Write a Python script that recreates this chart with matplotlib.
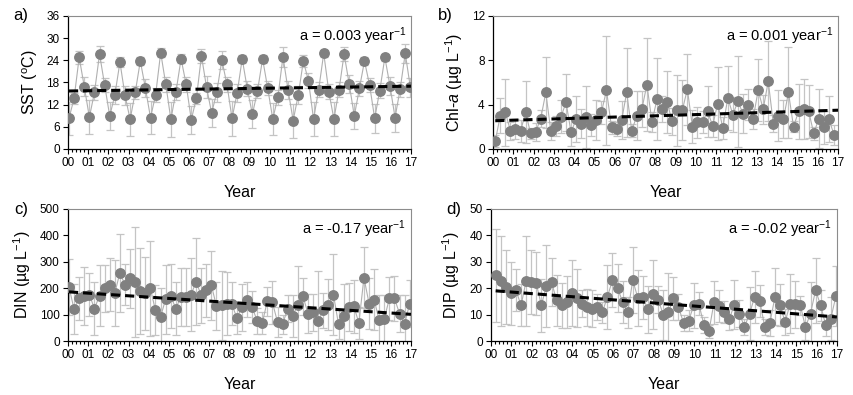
import numpy as np
import matplotlib
matplotlib.use("Agg")
import matplotlib.pyplot as plt
from matplotlib.ticker import MultipleLocator

plt.rcParams['font.family'] = ['Liberation Sans', 'DejaVu Sans']
plt.rcParams['mathtext.fontset'] = 'custom'
plt.rcParams['mathtext.rm'] = 'Liberation Sans'
plt.rcParams['mathtext.it'] = 'Liberation Sans:italic'

sst = [8.3, 13.7, 24.8, 16.9, 8.6, 15.3, 25.7, 17.3, 8.9, 14.6, 23.5, 14.5,
       8.0, 15.3, 23.8, 16.5, 8.5, 14.6, 26.1, 17.5, 8.0, 15.5, 24.4, 17.5,
       7.9, 13.7, 25.2, 16.7, 9.7, 15.3, 24.1, 17.5, 8.3, 15.1, 24.4, 16.3,
       9.4, 15.7, 24.4, 16.5, 8.1, 14.0, 25.0, 16.0, 7.7, 14.6, 23.8, 18.5,
       8.1, 16.0, 25.9, 15.5, 8.1, 16.0, 25.7, 17.6, 8.9, 16.4, 23.8, 17.3,
       8.3, 15.8, 24.8, 17.1, 8.5, 16.2, 25.9, 16.7]
sst_err = [4.5, 1.5, 1.8, 2.5, 4.6, 2.0, 2.2, 2.0, 3.8, 2.5, 1.3, 2.5,
           4.5, 1.8, 1.0, 2.5, 4.5, 2.0, 1.3, 2.0, 4.7, 2.2, 1.2, 2.0,
           3.8, 1.5, 1.8, 3.0, 3.7, 2.5, 2.5, 2.0, 4.8, 2.5, 1.0, 2.0,
           3.8, 2.0, 1.0, 2.0, 4.3, 2.0, 2.7, 2.5, 4.6, 2.5, 1.6, 2.0,
           4.6, 2.0, 1.0, 2.0, 4.6, 2.0, 2.0, 2.5, 3.6, 2.0, 1.0, 2.0,
           3.9, 2.0, 1.0, 2.5, 3.8, 2.0, 2.5, 2.5]

chl = [0.72, 3.0, 3.3, 1.65, 1.8, 1.6, 3.3, 1.4, 1.55, 2.75,
       5.1, 1.6, 2.1, 2.9, 4.2, 1.5, 2.7, 2.3, 2.9, 2.2,
       2.6, 3.3, 5.3, 1.95, 1.8, 2.6, 5.1, 1.65, 3.0, 3.6,
       5.8, 2.45, 4.5, 3.6, 4.2, 2.5, 3.5, 3.5, 5.4, 2.0,
       2.4, 2.45, 3.4, 2.1, 4.1, 1.9, 4.6, 3.1, 4.3, 3.2,
       4.0, 2.7, 5.3, 3.6, 6.1, 2.3, 3.0, 2.7, 5.1, 2.0,
       3.4, 3.6, 3.4, 1.4, 2.75, 1.95, 2.7, 1.3]
chl_err = [0.5, 1.6, 3.0, 0.8, 0.9, 1.0, 2.8, 0.5, 0.8, 0.8,
           3.2, 0.8, 0.9, 1.5, 2.6, 1.2, 2.1, 1.3, 2.8, 1.0,
           1.8, 1.0, 4.9, 0.6, 0.6, 1.7, 4.0, 0.6, 2.2, 1.6,
           4.2, 0.9, 3.7, 1.2, 2.8, 1.2, 3.2, 2.7, 3.2, 1.5,
           1.4, 1.0, 2.3, 1.0, 3.3, 1.0, 2.9, 1.6, 4.1, 1.8,
           1.4, 0.9, 2.8, 1.3, 3.6, 0.8, 2.3, 1.7, 4.1, 0.5,
           2.5, 2.7, 2.4, 0.6, 2.7, 1.5, 2.1, 0.9]

din = [205, 120, 161, 170, 176, 123, 171, 199, 214, 180,
       258, 214, 237, 222, 190, 180, 199, 116, 91, 158,
       171, 123, 167, 165, 176, 224, 173, 192, 211, 132,
       135, 142, 142, 87, 127, 157, 129, 76, 68, 151,
       146, 72, 63, 123, 95, 138, 170, 104, 108, 75,
       116, 138, 176, 63, 95, 129, 132, 68, 240, 142,
       157, 78, 85, 161, 161, 104, 66, 142]
din_err = [105, 95, 80, 110, 80, 100, 115, 90, 100, 125,
           147, 76, 111, 208, 162, 140, 179, 95, 110, 130,
           120, 100, 110, 110, 140, 165, 105, 100, 130, 90,
           130, 120, 80, 60, 90, 65, 60, 50, 40, 55,
           80, 55, 35, 50, 80, 145, 70, 75, 70, 190,
           65, 95, 155, 55, 120, 90, 100, 60, 115, 95,
           115, 95, 90, 80, 85, 70, 110, 90]

dip = [24.9, 22.7, 20.3, 18.0, 19.2, 13.5, 22.7, 22.4, 21.8, 13.5,
       20.9, 22.4, 15.4, 13.5, 14.8, 18.0, 16.3, 14.2, 12.7, 12.3,
       12.9, 10.8, 16.7, 23.0, 20.1, 14.8, 10.8, 23.0, 16.3, 16.5,
       12.0, 17.7, 15.7, 10.0, 10.8, 16.1, 12.9, 6.8, 7.6, 13.5,
       14.2, 6.2, 3.7, 14.6, 13.2, 11.0, 8.2, 13.8, 10.4, 5.3,
       10.4, 16.7, 15.1, 5.3, 6.8, 16.7, 13.5, 7.2, 14.2, 13.9,
       13.5, 5.3, 10.4, 19.2, 13.5, 5.9, 8.5, 17.0]
dip_err = [17.6, 17, 14, 12, 8, 8, 17, 12, 12, 10,
           15.6, 9, 9.6, 8.5, 10, 12.5, 11, 5, 7, 7,
           5, 4, 12, 10.3, 9, 8, 6, 12.5, 10.7, 8,
           9, 13, 5, 9.5, 15, 8, 5, 3, 4, 8.5,
           4.3, 3, 2.5, 8.2, 6, 4, 4, 9.2, 5, 3,
           10, 9.8, 6, 3, 5, 10.8, 8, 5, 11, 9,
           3.5, 5, 12, 12.3, 6, 4, 8, 11.5]

# first/last sampling time (years since 2000) per panel
t_span = [(0.05, 16.97), (0.11, 16.8), (0.05, 16.94), (0.23, 16.95)]
# regression line end values
trend_a = [15.7, 17.0]
trend_b = [2.55, 3.5]
trend_c = [186, 101]
trend_d = [19.0, 9.1]

slopes = ['a = 0.003 year$^{-1}$', 'a = 0.001 year$^{-1}$',
          'a = -0.17 year$^{-1}$', 'a = -0.02 year$^{-1}$']
ylabels = ['SST ($^{\\rm o}$C)', 'Chl-$\\it{a}$ (µg L$^{-1}$)',
           'DIN (µg L$^{-1}$)', 'DIP (µg L$^{-1}$)']
panel_tags = ['a)', 'b)', 'c)', 'd)']
year_labels = ['%02d' % y for y in range(18)]

panels = [
    (sst, sst_err, trend_a, 36, 6),
    (chl, chl_err, trend_b, 12, 4),
    (din, din_err, trend_c, 500, 100),
    (dip, dip_err, trend_d, 50, 10),
]

fig = plt.figure(figsize=(8.54, 3.95), dpi=100)
rects = [
    [0.0796, 0.6228, 0.4016, 0.3367],
    [0.5773, 0.6228, 0.4040, 0.3367],
    [0.0796, 0.1367, 0.4016, 0.3342],
    [0.5749, 0.1367, 0.4051, 0.3342],
]
tag_pos = [(0.015, 0.96), (0.513, 0.96), (0.017, 0.47), (0.522, 0.47)]

for i, (vals, errs, trend, ymax, ystep) in enumerate(panels):
    ax = fig.add_axes(rects[i])
    t = np.linspace(t_span[i][0], t_span[i][1], len(vals))
    ax.errorbar(t, vals, yerr=errs, fmt='none', ecolor='#c4c4c4',
                elinewidth=0.9, capsize=3.2, capthick=0.9, zorder=1)
    ax.plot(t, vals, color='#b0b0b0', lw=0.8, zorder=2)
    ax.plot(t, vals, 'o', color='#808080', ms=6.8, mec='#808080', zorder=3)
    ax.plot([t[0], 17], trend, color='black', lw=2.2,
            dashes=(3, 1.6), zorder=4)

    ax.set_xlim(0, 17)
    ax.set_ylim(0, ymax)
    ax.set_xticks(range(18))
    ax.set_xticklabels(year_labels)
    ax.xaxis.set_minor_locator(MultipleLocator(0.2))
    ax.yaxis.set_major_locator(MultipleLocator(ystep))
    ax.tick_params(axis='both', which='major', direction='out', length=3.5,
                   width=0.8, labelsize=8.5, pad=2.5)
    ax.tick_params(axis='x', which='minor', direction='out', length=2.5,
                   width=0.8)
    for s in ['top', 'right']:
        ax.spines[s].set_color('#8c8c8c')
        ax.spines[s].set_linewidth(0.8)
    for s in ['left', 'bottom']:
        ax.spines[s].set_linewidth(0.9)

    ax.set_xlabel('Year', fontsize=11.5, labelpad=11)
    ax.set_ylabel(ylabels[i], fontsize=11.5, labelpad=5)
    ax.text(0.985, 0.93, slopes[i], transform=ax.transAxes,
            ha='right', va='top', fontsize=10.5)
    fig.text(tag_pos[i][0], tag_pos[i][1], panel_tags[i], fontsize=12,
             ha='left', va='center')

fig.savefig('out.png', dpi=100)
